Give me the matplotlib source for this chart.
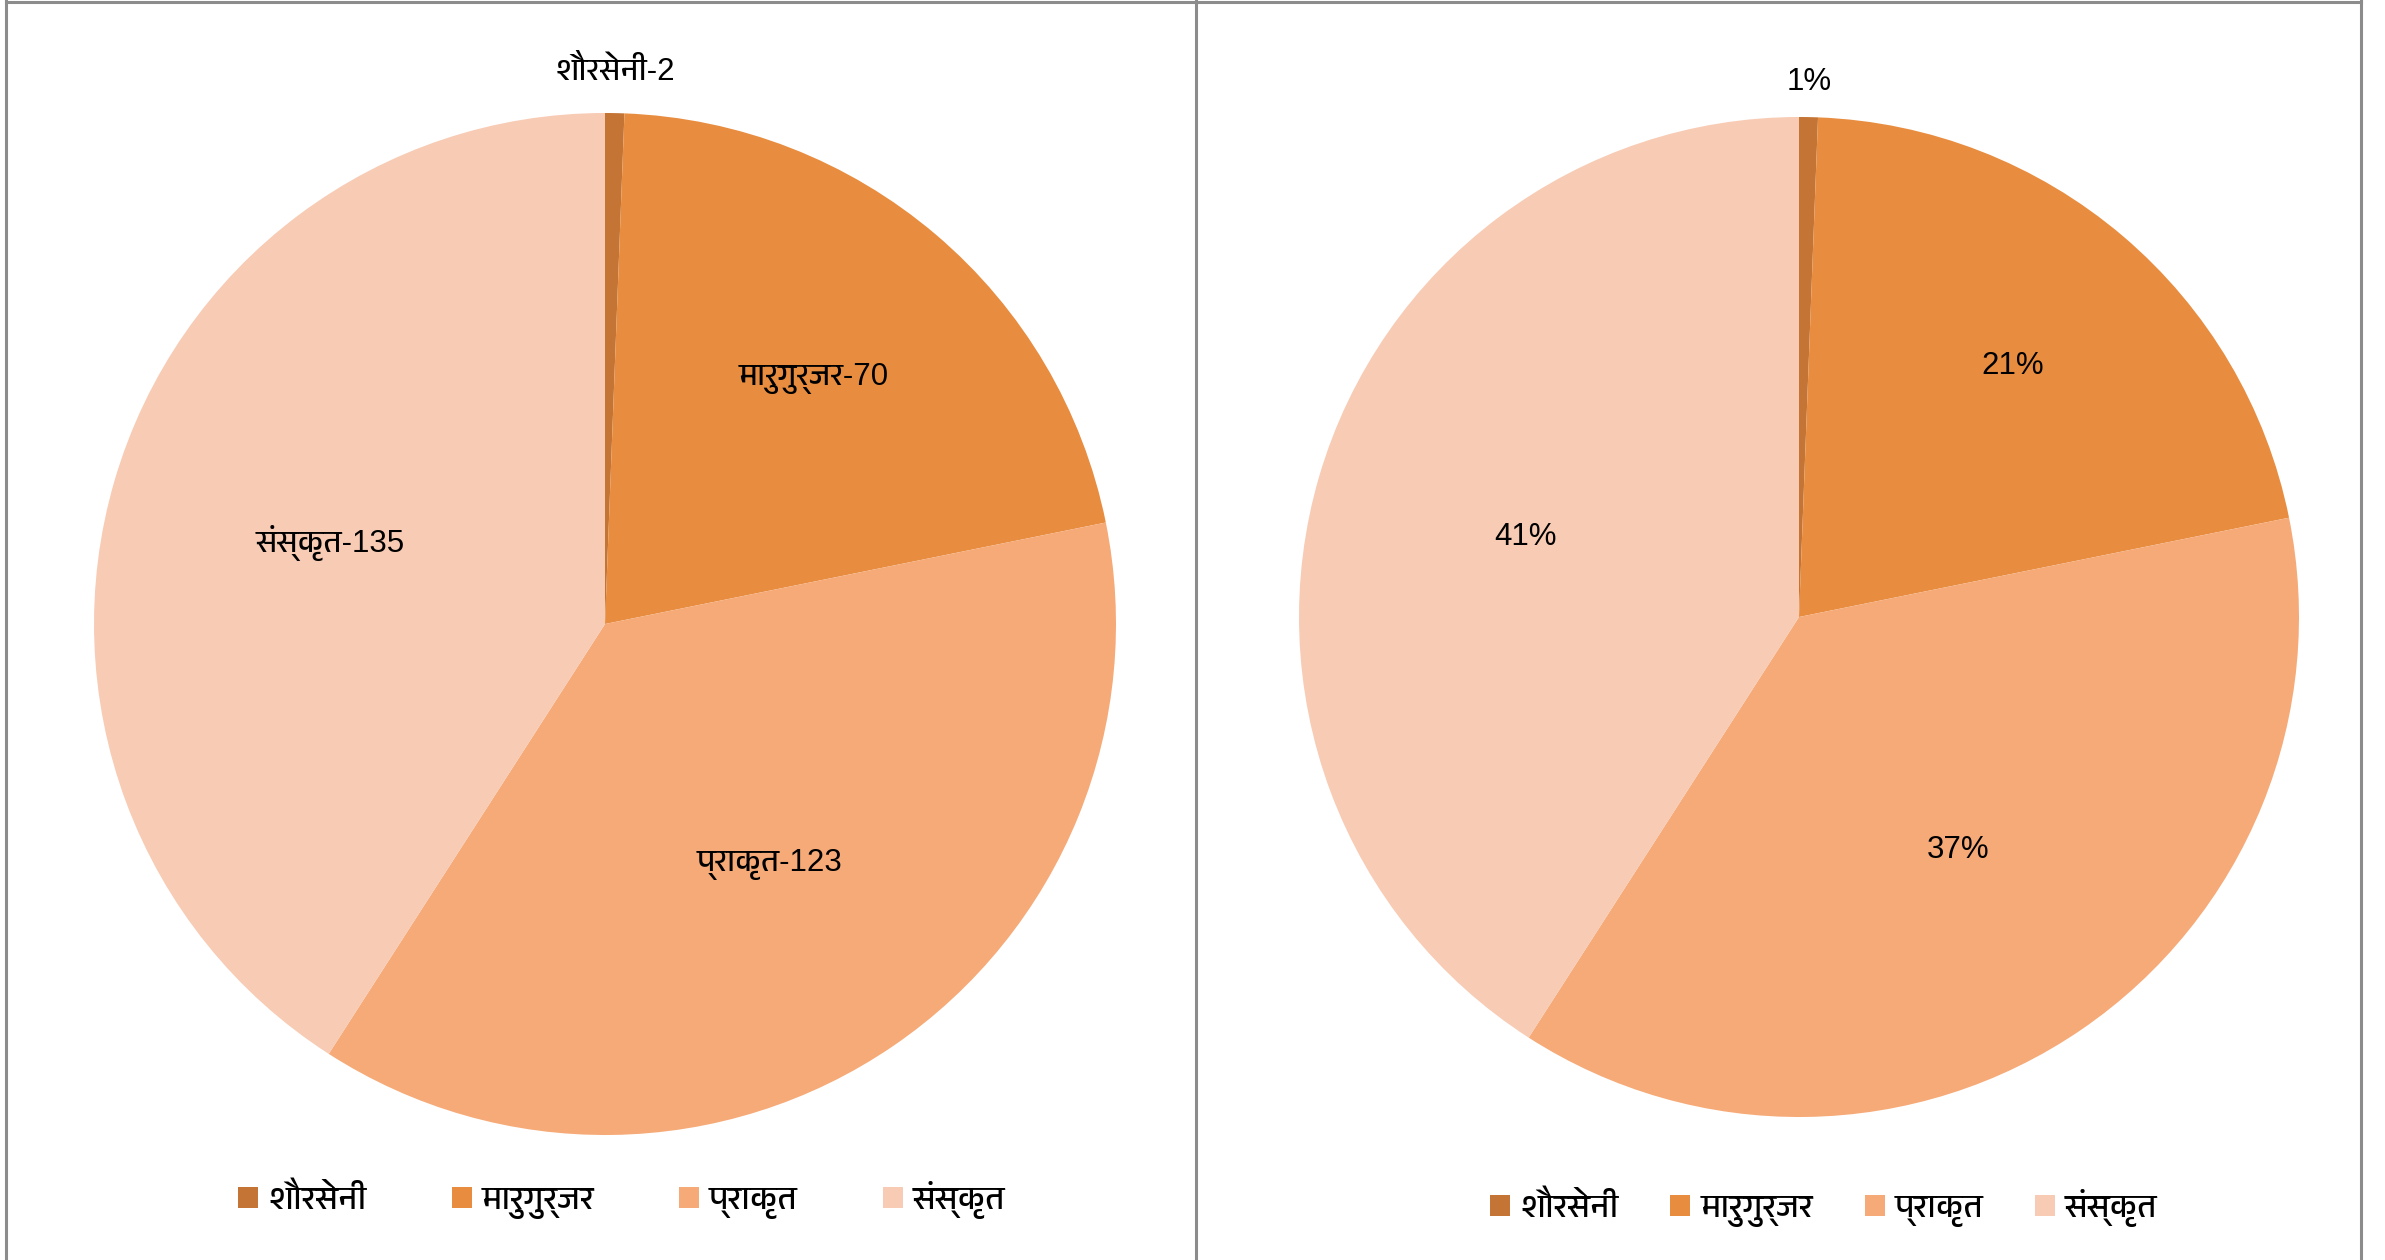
import numpy as np
import matplotlib
matplotlib.use('Agg')
import matplotlib.pyplot as plt
import matplotlib.font_manager as fm
from matplotlib.patches import Patch
from matplotlib.lines import Line2D

# data
names = ['शौरसेनी', 'मारुगुर्जर', 'प्राकृत', 'संस्कृत']
counts = [2, 70, 123, 135]
colors = ['#C47535', '#E88D40', '#F6AA78', '#F8CBB4']

# pick a font that has devanagari, if any is installed
deva = [f.name for f in fm.fontManager.ttflist
        if 'devanagari' in f.name.lower() or f.name in ('Mangal', 'Kalimati', 'Lohit Hindi')]
deva = list(dict.fromkeys(deva))
plt.rcParams['font.family'] = deva + ['Liberation Sans', 'DejaVu Sans']
latin_first = ['Liberation Sans'] + deva + ['DejaVu Sans']

W, H = 2385, 1260
fig = plt.figure(figsize=(W/100, H/100), dpi=100)

def pie_axes(cx, cy, r):
    return fig.add_axes([(cx-r)/W, (H-cy-r)/H, 2*r/W, 2*r/H])

total = sum(counts)
pcts = ['%d%%' % max(1, round(100*c/total)) for c in counts]
lab_left = ['%s-%d' % (n, c) for n, c in zip(names, counts)]

def draw_pie(ax, labels, dists):
    wedges, _ = ax.pie(counts, colors=colors, startangle=90, counterclock=False,
                       wedgeprops=dict(linewidth=0))
    for w, lab, d in zip(wedges, labels, dists):
        ang = np.deg2rad((w.theta1 + w.theta2)/2)
        ax.text(d*np.cos(ang), d*np.sin(ang), lab, ha='center', va='center',
                fontsize=22.5, color='black', family=latin_first)
    ax.set_xlim(-1, 1)
    ax.set_ylim(-1, 1)
    ax.axis('off')

ax1 = pie_axes(605, 624, 511)
draw_pie(ax1, lab_left, [1.08, 0.63, 0.57, 0.56])
ax2 = pie_axes(1799, 617, 500)
draw_pie(ax2, pcts, [1.07, 0.66, 0.565, 0.57])

handles = [Patch(facecolor=c, edgecolor='none') for c in colors]
fig.legend(handles, names, loc='center', bbox_to_anchor=(622/W, 1-1200/H), ncol=4,
           frameon=False, fontsize=24, handlelength=0.6, handleheight=0.6,
           handletextpad=0.3, columnspacing=2.55)
fig.legend(handles, names, loc='center', bbox_to_anchor=(1824/W, 1-1208/H), ncol=4,
           frameon=False, fontsize=24, handlelength=0.6, handleheight=0.6,
           handletextpad=0.3, columnspacing=1.55)

# panel borders
gray = '#8c8c8c'
for x in (6, 1196, 2361):
    fig.add_artist(Line2D([x/W, x/W], [0, 1], color=gray, lw=2.2))
fig.add_artist(Line2D([6/W, 2361/W], [1-1.5/H, 1-1.5/H], color=gray, lw=2.2))

fig.savefig('out.png', dpi=100)
